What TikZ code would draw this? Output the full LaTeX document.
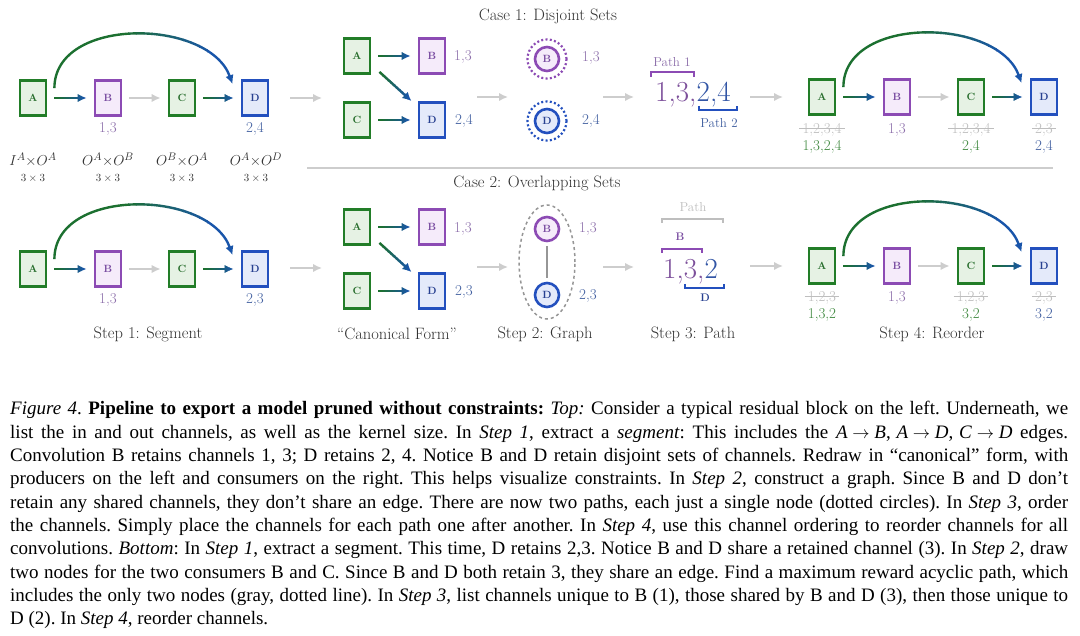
\documentclass[tikz,border=0pt]{standalone}
\usepackage{fontspec}
\newfontfamily\capfont{Liberation Serif}
\usetikzlibrary{arrows.meta}
\newcommand\setfs[1]{\fontsize{#1}{#1}\selectfont}
\definecolor{gstroke}{RGB}{34,125,40}
\definecolor{gfill}{RGB}{230,242,228}
\definecolor{gtext}{RGB}{40,110,45}
\definecolor{pstroke}{RGB}{140,75,180}
\definecolor{pfill}{RGB}{245,235,250}
\definecolor{ptext}{RGB}{120,75,160}
\definecolor{bstroke}{RGB}{35,80,190}
\definecolor{bfill}{RGB}{228,234,250}
\definecolor{btext}{RGB}{40,65,145}
\definecolor{arrg}{RGB}{28,112,48}
\definecolor{arrb}{RGB}{25,85,170}
\definecolor{lgray}{RGB}{205,205,205}
\definecolor{sgray}{RGB}{190,190,190}
\definecolor{plbl}{RGB}{140,110,170}
\definecolor{blbl}{RGB}{65,95,160}
\definecolor{glbl}{RGB}{60,135,60}
\definecolor{pbig}{RGB}{125,80,155}
\definecolor{bbig}{RGB}{50,85,165}
\definecolor{dark}{RGB}{50,50,50}
\definecolor{midgray}{RGB}{150,150,150}
\tikzset{
  box/.style={draw, line width=2.8pt, minimum width=26pt, minimum height=35pt, inner sep=0pt, font=\setfs{10.5}\bfseries},
  gbox/.style={box, draw=gstroke, fill=gfill, text=gtext},
  pbox/.style={box, draw=pstroke, fill=pfill, text=ptext},
  bbox/.style={box, draw=bstroke, fill=bfill, text=btext},
  circ/.style={circle, line width=2.6pt, minimum size=24pt, inner sep=0pt, font=\setfs{10.5}\bfseries},
  pcirc/.style={circ, draw=pstroke, fill=pfill, text=ptext},
  bcirc/.style={circ, draw=bstroke, fill=bfill, text=btext},
  arrtip/.style={-{Latex[length=9pt,width=8.5pt]}},
  flow/.style={line width=2.4pt, arrtip},
  grayarr/.style={line width=2.4pt, draw=lgray, arrtip},
  shrt/.style={shorten >=7pt, shorten <=7pt},
  lbl/.style={font=\setfs{15}, inner sep=0pt},
  plab/.style={lbl, text=plbl},
  blab/.style={lbl, text=blbl},
  glab/.style={lbl, text=glbl},
  slab/.style={lbl, text=sgray},
  strk/.style={draw=sgray, line width=1pt},
  ttl/.style={font=\setfs{16.5}, text=dark, inner sep=0pt},
  mlbl/.style={font=\setfs{15.5}, text=dark, inner sep=0pt},
  klbl/.style={font=\setfs{10.5}, text=dark, inner sep=0pt},
  small/.style={font=\setfs{13}, inner sep=0pt},
  bignum/.style={font=\setfs{29}, inner sep=0pt},
  brk/.style={line width=1.8pt},
  capl/.style={anchor=base west, inner sep=0pt, font=\capfont\setfs{19}\frenchspacing}
}
% gradient (green -> blue) connector: drawn in clipped vertical strips between x=#3 and x=#4
\newcommand\gradarrow[4][]{%
  \foreach \k in {0,...,11}{%
    \pgfmathtruncatemacro\pc{\k*100/11}%
    \pgfmathsetmacro\xl{ifthenelse(\k==0,-100,#3+(#4-#3)*\k/12)}%
    \pgfmathsetmacro\xr{ifthenelse(\k==11,1200,#3+(#4-#3)*(\k+1)/12+0.7)}%
    \begin{scope}
      \clip (\xl,-100) rectangle (\xr,800);
      \draw[flow,#1,draw=arrb!\pc!arrg] #2;
    \end{scope}
  }}
\newcommand\struck[3]{\node[slab] (#1) at #2 {#3}; \draw[strk] ([xshift=-3pt,yshift=1.5pt]#1.west) -- ([xshift=3pt,yshift=1.5pt]#1.east);}
\newcommand\capline[2]{\node[capl] at (10,#1) {\hbox to 1058pt{#2}};}
\newcommand\mar[2]{\textit{#1}\kern.25em$\rightarrow$\kern.25em\textit{#2}}
\begin{document}
\begin{tikzpicture}[x=1pt,y=-1pt]
\fill[white] (0,0) rectangle (1080,636);
\useasboundingbox (0,0) rectangle (1080,636);

% ---------- Case titles and separator
\node[ttl] (case1) at (548,16) {Case 1: Disjoint Sets};
\node[ttl] (case2) at (537,183) {Case 2: Overlapping Sets};
\coordinate (sepL) at (307,168);
\coordinate (sepR) at (1053,168);
\draw[lgray, line width=1.8pt] (sepL) -- (sepR);

% ================= TOP ROW =================
\node[gbox] (A1) at (33,98) {A};
\node[pbox] (B1) at (108,98) {B};
\node[gbox] (C1) at (182,98) {C};
\node[bbox] (D1) at (255,98) {D};
\gradarrow[shrt]{(A1) -- (B1)}{56}{86}
\draw[grayarr, shrt] (B1) -- (C1);
\gradarrow[shrt]{(C1) -- (D1)}{204}{234}
\gradarrow{([xshift=7pt,yshift=-9pt]A1.north east) .. controls +(0,-72) and +(-24,-66) .. ([xshift=-8pt,yshift=-5pt]D1.north west)}{120}{215}
\node[plab] (l13a) at (108,129) {1,3};
\node[blab] (l24a) at (255,129) {2,4};
\node[mlbl] (m1) at (33,160) {$I^A{\times}O^A$};
\node[mlbl] (m2) at (108,160) {$O^A{\times}O^B$};
\node[mlbl] (m3) at (182,160) {$O^B{\times}O^A$};
\node[mlbl] (m4) at (256,160) {$O^A{\times}O^D$};
\node[klbl] (k1) at (33,178) {$3\times3$};
\node[klbl] (k2) at (108,178) {$3\times3$};
\node[klbl] (k3) at (182,178) {$3\times3$};
\node[klbl] (k4) at (256,178) {$3\times3$};

\coordinate (g1s) at (290,98); \coordinate (g1e) at (322,98);
\draw[grayarr] (g1s) -- (g1e);

% canonical form
\node[gbox] (A2) at (357,56) {A};
\node[pbox] (B2) at (432,56) {B};
\node[gbox] (C2) at (357,120) {C};
\node[bbox] (D2) at (432,120) {D};
\gradarrow[shrt]{(A2) -- (B2)}{380}{410}
\gradarrow[shrt]{(C2) -- (D2)}{380}{410}
\gradarrow{([xshift=8pt,yshift=3pt]A2.south east) -- ([xshift=-6pt]D2.north west)}{380}{410}
\node[plab] (l13b) at (463,57) {1,3};
\node[blab] (l24b) at (464,121) {2,4};

\coordinate (g2s) at (477,97); \coordinate (g2e) at (508,97);
\draw[grayarr] (g2s) -- (g2e);

% graph
\node[pcirc] (B3) at (547,59) {B};
\node[bcirc] (D3) at (547,121) {D};
\draw[pstroke, line width=2.2pt, dash pattern=on 2pt off 2.3pt] (B3.center) circle (19.5pt);
\draw[bstroke, line width=2.2pt, dash pattern=on 2pt off 2.3pt] (D3.center) circle (19.5pt);
\node[plab] (l13c) at (591,58) {1,3};
\node[blab] (l24c) at (591,121) {2,4};

\coordinate (g3s) at (603,97); \coordinate (g3e) at (634,97);
\draw[grayarr] (g3s) -- (g3e);

% path
\node[bignum, text=pbig, anchor=base west] (p1) at (655,102) {1,3,};
\node[bignum, text=bbig, anchor=base west] (p2) at (p1.base east) {2,4};
\draw[brk, pstroke] (651,77) -- (651,72) -- (694,72) -- (694,77);
\node[small, text=plbl] (path1) at (672,62) {Path 1};
\draw[brk, bstroke] (699,106) -- (699,110) -- (737,110) -- (737,106);
\node[small, text=blbl] (path2) at (719,123) {Path 2};

\coordinate (g4s) at (750,97); \coordinate (g4e) at (783,97);
\draw[grayarr] (g4s) -- (g4e);

% step 4 reorder
\node[gbox] (A4) at (822,97) {A};
\node[pbox] (B4) at (897,97) {B};
\node[gbox] (C4) at (971,97) {C};
\node[bbox] (D4) at (1044,97) {D};
\gradarrow[shrt]{(A4) -- (B4)}{845}{875}
\draw[grayarr, shrt] (B4) -- (C4);
\gradarrow[shrt]{(C4) -- (D4)}{993}{1023}
\gradarrow{([xshift=7pt,yshift=-9pt]A4.north east) .. controls +(0,-72) and +(-24,-66) .. ([xshift=-8pt,yshift=-5pt]D4.north west)}{909}{1004}
\struck{sa4}{(822,130)}{1,2,3,4}
\node[glab] (na4) at (822,147) {1,3,2,4};
\node[plab] (nb4) at (897,130) {1,3};
\struck{sc4}{(971,130)}{1,2,3,4}
\node[glab] (nc4) at (971,147) {2,4};
\struck{sd4}{(1044,130)}{2,3}
\node[blab] (nd4) at (1044,147) {2,4};

% ================= BOTTOM ROW =================
\node[gbox] (A5) at (33,269) {A};
\node[pbox] (B5) at (108,269) {B};
\node[gbox] (C5) at (182,269) {C};
\node[bbox] (D5) at (255,269) {D};
\gradarrow[shrt]{(A5) -- (B5)}{56}{86}
\draw[grayarr, shrt] (B5) -- (C5);
\gradarrow[shrt]{(C5) -- (D5)}{204}{234}
\gradarrow{([xshift=7pt,yshift=-9pt]A5.north east) .. controls +(0,-72) and +(-24,-66) .. ([xshift=-8pt,yshift=-5pt]D5.north west)}{120}{215}
\node[plab] (l13d) at (108,300) {1,3};
\node[blab] (l23d) at (255,300) {2,3};
\node[ttl] (st1) at (148,334) {Step 1: Segment};

\coordinate (h1s) at (290,268); \coordinate (h1e) at (322,268);
\draw[grayarr] (h1s) -- (h1e);

\node[gbox] (A6) at (357,227) {A};
\node[pbox] (B6) at (432,227) {B};
\node[gbox] (C6) at (357,291) {C};
\node[bbox] (D6) at (432,291) {D};
\gradarrow[shrt]{(A6) -- (B6)}{380}{410}
\gradarrow[shrt]{(C6) -- (D6)}{380}{410}
\gradarrow{([xshift=8pt,yshift=3pt]A6.south east) -- ([xshift=-6pt]D6.north west)}{380}{410}
\node[plab] (l13e) at (463,229) {1,3};
\node[blab] (l23e) at (464,292) {2,3};
\node[ttl] (canon) at (397,334) {``Canonical Form''};

\coordinate (h2s) at (477,267); \coordinate (h2e) at (508,267);
\draw[grayarr] (h2s) -- (h2e);

\node[pcirc] (B7) at (547,229) {B};
\node[bcirc] (D7) at (547,295) {D};
\draw[midgray, line width=2.4pt, shorten >=4pt, shorten <=4pt] (B7) -- (D7);
\draw[midgray, line width=1.5pt, dash pattern=on 3pt off 3pt] (547,262) ellipse [x radius=28pt, y radius=57pt];
\node[plab] (l13f) at (588,229) {1,3};
\node[blab] (l23f) at (588,296) {2,3};
\node[ttl] (st2) at (545,334) {Step 2: Graph};

\coordinate (h3s) at (603,267); \coordinate (h3e) at (634,267);
\draw[grayarr] (h3s) -- (h3e);

\node[small, text=sgray] (pathg) at (693,207) {Path};
\draw[brk, sgray] (662,223) -- (662,219) -- (723,219) -- (723,223);
\node[font=\setfs{11}\bfseries, text=ptext, inner sep=0pt] (pB) at (680,237) {B};
\draw[brk, pstroke] (662,253) -- (662,249) -- (702,249) -- (702,253);
\node[bignum, text=pbig, anchor=base west] (q1) at (663,279) {1,3,};
\node[bignum, text=bbig, anchor=base west] (q2) at (q1.base east) {2};
\draw[brk, bstroke] (685,284) -- (685,288) -- (724,288) -- (724,284);
\node[font=\setfs{11}\bfseries, text=btext, inner sep=0pt] (pD) at (705,298) {D};
\node[ttl] (st3) at (693,334) {Step 3: Path};

\coordinate (h4s) at (750,266); \coordinate (h4e) at (783,266);
\draw[grayarr] (h4s) -- (h4e);

\node[gbox] (A8) at (822,266) {A};
\node[pbox] (B8) at (897,266) {B};
\node[gbox] (C8) at (971,266) {C};
\node[bbox] (D8) at (1044,266) {D};
\gradarrow[shrt]{(A8) -- (B8)}{845}{875}
\draw[grayarr, shrt] (B8) -- (C8);
\gradarrow[shrt]{(C8) -- (D8)}{993}{1023}
\gradarrow{([xshift=7pt,yshift=-9pt]A8.north east) .. controls +(0,-72) and +(-24,-66) .. ([xshift=-8pt,yshift=-5pt]D8.north west)}{909}{1004}
\struck{sa8}{(822,298)}{1,2,3}
\node[glab] (na8) at (822,315) {1,3,2};
\node[plab] (nb8) at (897,298) {1,3};
\struck{sc8}{(971,298)}{1,2,3}
\node[glab] (nc8) at (971,315) {3,2};
\struck{sd8}{(1044,298)}{2,3}
\node[blab] (nd8) at (1044,315) {3,2};
\node[ttl] (st4) at (932,334) {Step 4: Reorder};

% ================= CAPTION =================
\capline{415}{\textit{Figure 4}. \textbf{Pipeline to export a model pruned without constraints:} \textit{Top:} Consider a typical residual block on the left. Underneath, we}
\capline{438.3}{list the in and out channels, as well as the kernel size. In \textit{Step 1}, extract a \textit{segment}: This includes the \mar{A}{B},\kern.3em\mar{A}{D},\kern.3em\mar{C}{D} edges.}
\capline{461.6}{Convolution B retains channels 1, 3; D retains 2, 4. Notice B and D retain disjoint sets of channels. Redraw in “canonical” form, with}
\capline{484.9}{producers on the left and consumers on the right. This helps visualize constraints. In \textit{Step 2}, construct a graph. Since B and D don’t}
\capline{508.2}{retain any shared channels, they don’t share an edge. There are now two paths, each just a single node (dotted circles). In \textit{Step 3}, order}
\capline{531.5}{the channels. Simply place the channels for each path one after another. In \textit{Step 4}, use this channel ordering to reorder channels for all}
\capline{554.8}{convolutions. \textit{Bottom}: In \textit{Step 1}, extract a segment. This time, D retains 2,3. Notice B and D share a retained channel (3). In \textit{Step 2}, draw}
\capline{578.1}{two nodes for the two consumers B and C. Since B and D both retain 3, they share an edge. Find a maximum reward acyclic path, which}
\capline{601.4}{includes the only two nodes (gray, dotted line). In \textit{Step 3}, list channels unique to B (1), those shared by B and D (3), then those unique to}
\node[capl] (cap10) at (10,624.7) {D (2). In \textit{Step 4}, reorder channels.};
\end{tikzpicture}
\end{document}
